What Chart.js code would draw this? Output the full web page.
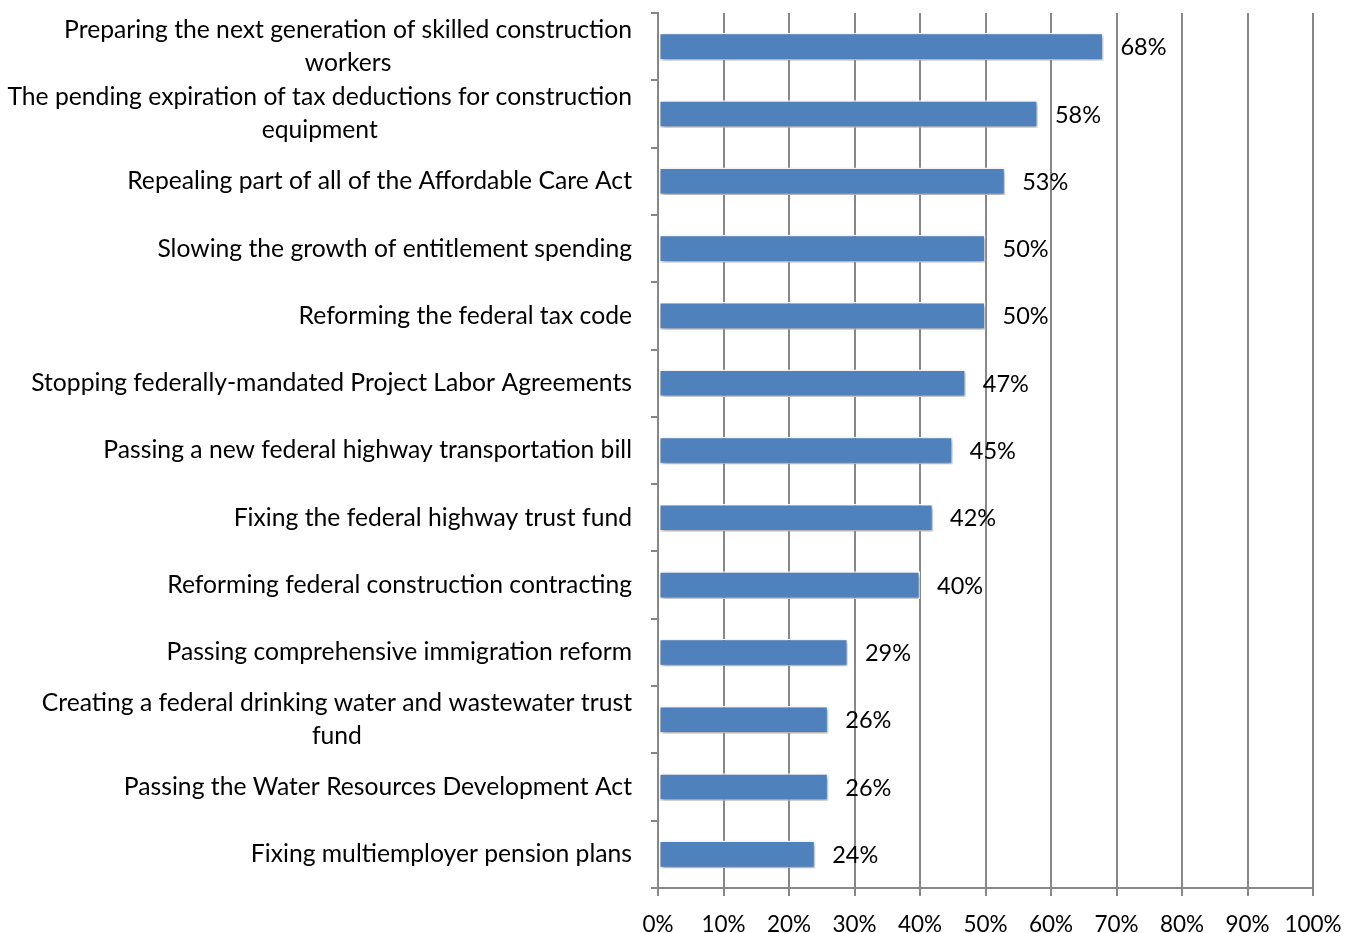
<!DOCTYPE html>
<html>
<head>
<meta charset="utf-8">
<script src="https://cdn.jsdelivr.net/npm/chart.js@4/dist/chart.umd.min.js"></script>
<style>
  html, body { margin: 0; padding: 0; background: #ffffff; }
  #wrap { width: 1354px; height: 933px; }
</style>
</head>
<body>
<div id="wrap"><canvas id="chart" width="1354" height="933"></canvas></div>
<script>
// Legislative priorities, share of respondents (%)
const categories = [
  ["Preparing the next generation of skilled construction", "workers"],
  ["The pending expiration of tax deductions for construction", "equipment"],
  ["Repealing part of all of the Affordable Care Act"],
  ["Slowing the growth of entitlement spending"],
  ["Reforming the federal tax code"],
  ["Stopping federally-mandated Project Labor Agreements"],
  ["Passing a new federal highway transportation bill"],
  ["Fixing the federal highway trust fund"],
  ["Reforming federal construction contracting"],
  ["Passing comprehensive immigration reform"],
  ["Creating a federal drinking water and wastewater trust", "fund"],
  ["Passing the Water Resources Development Act"],
  ["Fixing multiemployer pension plans"]
];
const shares = [68, 58, 53, 50, 50, 47, 45, 42, 40, 29, 26, 26, 24];
const xTickValues = [0, 10, 20, 30, 40, 50, 60, 70, 80, 90, 100];

const FONT_FAMILY = "Lato, 'Open Sans', sans-serif";
const LABEL_SIZE = 24.7;
const VALUE_SIZE = 23.5;
const TICK_SIZE = 22.5;
const GRID_COLOR = "#878787";
const BAR_COLOR = "#4F81BD";

// Soft drop shadow under each bar
const barShadow = {
  id: "barShadow",
  beforeDatasetDraw(chart) {
    const ctx = chart.ctx;
    ctx.save();
    ctx.shadowColor = "rgba(0,0,0,0.38)";
    ctx.shadowBlur = 4;
    ctx.shadowOffsetX = 1;
    ctx.shadowOffsetY = 2;
  },
  afterDatasetDraw(chart) {
    chart.ctx.restore();
  }
};

// Value labels to the right of each bar
const valueLabels = {
  id: "valueLabels",
  afterDatasetsDraw(chart) {
    const ctx = chart.ctx;
    const meta = chart.getDatasetMeta(0);
    ctx.save();
    ctx.font = VALUE_SIZE + "px " + FONT_FAMILY;
    ctx.fillStyle = "#000000";
    ctx.textAlign = "left";
    ctx.textBaseline = "middle";
    meta.data.forEach((bar, i) => {
      ctx.fillText(shares[i] + "%", bar.x + 17, bar.y + 1);
    });
    ctx.restore();
  }
};

// Category labels: each block right-aligned to the axis, its lines centred within the block
const categoryLabels = {
  id: "categoryLabels",
  afterDraw(chart) {
    const ctx = chart.ctx;
    const yScale = chart.scales.y;
    const rightEdge = yScale.right - 26;
    const lineHeight = 33;
    ctx.save();
    ctx.font = LABEL_SIZE + "px " + FONT_FAMILY;
    ctx.fillStyle = "#000000";
    ctx.textAlign = "center";
    ctx.textBaseline = "middle";
    categories.forEach((lines, i) => {
      const cy = yScale.getPixelForValue(i);
      const widest = Math.max(...lines.map(l => ctx.measureText(l).width));
      const cx = rightEdge - widest / 2;
      lines.forEach((line, j) => {
        const ly = cy + (j - (lines.length - 1) / 2) * lineHeight;
        ctx.fillText(line, cx, ly);
      });
    });
    ctx.restore();
  }
};

new Chart(document.getElementById("chart"), {
  type: "bar",
  data: {
    labels: categories.map(l => l.join(" ")),
    datasets: [{
      data: shares,
      backgroundColor: BAR_COLOR,
      borderColor: "#ffffff",
      borderWidth: 1.5,
      borderSkipped: false,
      barPercentage: 0.82,
      categoryPercentage: 0.5
    }]
  },
  options: {
    indexAxis: "y",
    responsive: false,
    animation: false,
    devicePixelRatio: 1,
    layout: { padding: { top: 13, right: 41, left: 0, bottom: 0 } },
    plugins: {
      legend: { display: false },
      tooltip: { enabled: false },
      title: { display: false }
    },
    scales: {
      x: {
        type: "linear",
        min: 0,
        max: 100,
        afterBuildTicks(scale) {
          scale.ticks = xTickValues.map(v => ({ value: v }));
        },
        ticks: {
          callback: v => v + "%",
          color: "#000000",
          font: { family: FONT_FAMILY, size: TICK_SIZE },
          padding: 15,
          maxRotation: 0
        },
        grid: {
          color: GRID_COLOR,
          lineWidth: 2,
          tickLength: 8,
          drawTicks: true
        },
        border: { color: GRID_COLOR, width: 2 },
        afterFit(scale) {
          scale.height = 45;
          scale.paddingLeft = 0;
          scale.paddingRight = 0;
        }
      },
      y: {
        type: "category",
        offset: true,
        ticks: { display: false },
        grid: {
          offset: true,
          drawOnChartArea: false,
          color: GRID_COLOR,
          lineWidth: 2,
          tickLength: 7,
          drawTicks: true
        },
        border: { color: GRID_COLOR, width: 2 },
        afterFit(scale) { scale.width = 658; }
      }
    }
  },
  plugins: [barShadow, valueLabels, categoryLabels]
});
</script>
</body>
</html>
